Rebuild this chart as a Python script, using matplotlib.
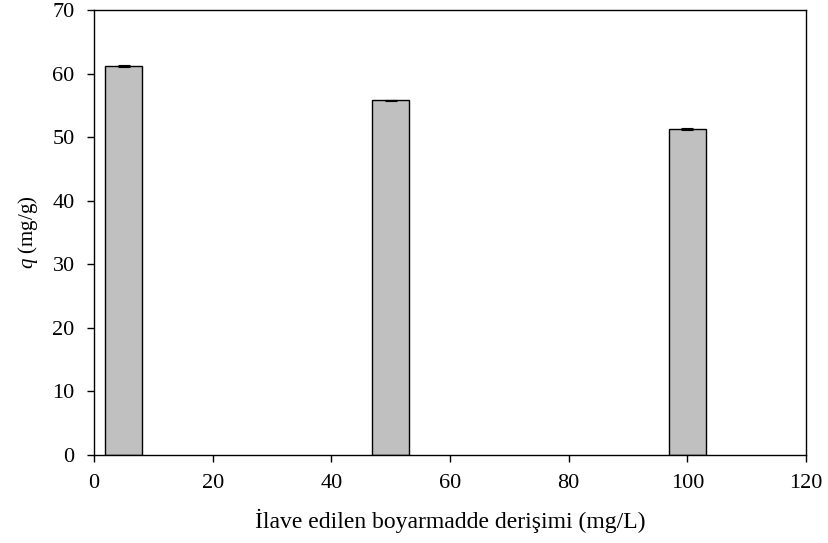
import matplotlib
matplotlib.use("Agg")
import matplotlib.pyplot as plt

concentrations = [5, 50, 100]
q_values = [61.2, 55.8, 51.3]
q_errors = [0.1, 0.1, 0.1]

plt.rcParams['font.family'] = ['Liberation Serif', 'DejaVu Serif']
plt.rcParams['mathtext.fontset'] = 'custom'
plt.rcParams['mathtext.it'] = 'Liberation Serif:italic'
plt.rcParams['mathtext.rm'] = 'Liberation Serif'

fig = plt.figure(figsize=(8.29, 5.43), dpi=100)
ax = fig.add_axes([0.1134, 0.162, 0.8589, 0.8196])

ax.bar(concentrations, q_values, width=6.2, color='#c0c0c0', edgecolor='black', linewidth=1.0,
       yerr=q_errors, capsize=4, error_kw=dict(ecolor='black', elinewidth=0.8, capthick=0.8))

ax.set_xlim(0, 120)
ax.set_ylim(0, 70)
ax.set_xticks(range(0, 121, 20))
ax.set_yticks(range(0, 71, 10))
ax.tick_params(direction='out', length=5, width=1, labelsize=16)
ax.tick_params(axis='y', pad=9)
ax.tick_params(axis='x', pad=9)
for s in ax.spines.values():
    s.set_linewidth(1.0)

ax.set_xlabel('İlave edilen boyarmadde derişimi (mg/L)', fontsize=17, labelpad=11)
ax.set_ylabel(r'$q$ (mg/g)', fontsize=15, labelpad=9)

fig.savefig('out.png', dpi=100)
